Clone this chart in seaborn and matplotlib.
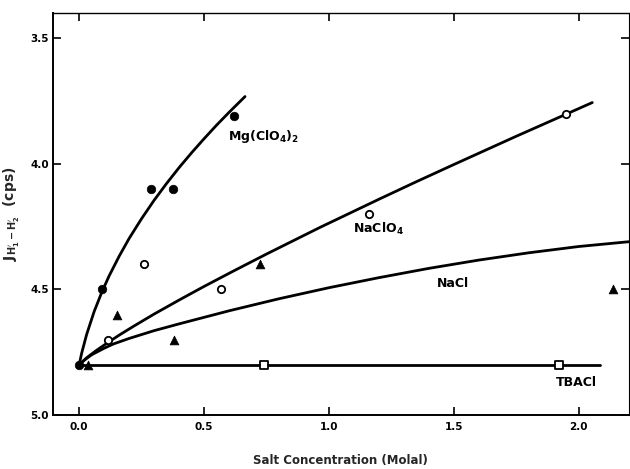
import matplotlib
matplotlib.use('Agg')
import matplotlib.pyplot as plt
import seaborn as sns

mg_x = [0.0, 0.091, 0.288, 0.375, 0.62]
mg_y = [4.80, 4.50, 4.10, 4.10, 3.81]

naclo4_x = [0.117, 0.26, 0.567, 1.161, 1.948]
naclo4_y = [4.70, 4.40, 4.50, 4.20, 3.80]

nacl_x = [0.035, 0.153, 0.38, 0.724, 2.137]
nacl_y = [4.80, 4.60, 4.70, 4.40, 4.50]

tbacl_x = [0.741, 1.921]
tbacl_y = [4.80, 4.80]

# Drawn curves
mg_curve_x = [0.0, 0.01, 0.03, 0.06, 0.091, 0.12, 0.16, 0.2, 0.25, 0.3, 0.35,
              0.4, 0.45, 0.5, 0.55, 0.6, 0.664]
mg_curve_y = [4.80, 4.754, 4.679, 4.588, 4.51, 4.446, 4.368, 4.297, 4.218,
              4.145, 4.078, 4.015, 3.956, 3.900, 3.846, 3.795, 3.732]

naclo4_curve_x = [0.0, 0.03, 0.07, 0.117, 0.16, 0.217, 0.3, 0.404, 0.5, 0.617,
                  0.75, 0.964, 1.204, 1.35, 1.497, 1.75, 1.9, 2.054]
naclo4_curve_y = [4.80, 4.772, 4.742, 4.71, 4.682, 4.647, 4.598, 4.54, 4.488,
                  4.427, 4.359, 4.253, 4.139, 4.071, 4.004, 3.89, 3.824, 3.756]

nacl_curve_x = [0.0, 0.02, 0.05, 0.1, 0.137, 0.2, 0.3, 0.4, 0.6, 0.8, 1.0,
                1.2, 1.4, 1.6, 1.8, 2.0, 2.2]
nacl_curve_y = [4.80, 4.782, 4.760, 4.734, 4.717, 4.695, 4.664, 4.637, 4.585,
                4.537, 4.493, 4.453, 4.416, 4.383, 4.354, 4.329, 4.31]

tbacl_curve_x = [0.0, 2.084]
tbacl_curve_y = [4.80, 4.80]

x_ticks = [0.0, 0.5, 1.0, 1.5, 2.0]
x_ticklabels = ['0.0', '0.5', '1.0', '1.5', '2.0']
y_ticks = [3.5, 4.0, 4.5, 5.0]
y_ticklabels = ['3.5', '4.0', '4.5', '5.0']

sns.set_theme(style='ticks')
plt.rcParams['font.family'] = ['DejaVu Sans']
plt.rcParams['mathtext.fontset'] = 'dejavusans'
plt.rcParams['mathtext.default'] = 'bf'

fig = plt.figure(figsize=(6.3, 4.69), dpi=100)
ax = fig.add_axes([0.084, 0.115, 0.914, 0.857])

# Curves
for cx, cy in [(mg_curve_x, mg_curve_y), (naclo4_curve_x, naclo4_curve_y),
               (nacl_curve_x, nacl_curve_y), (tbacl_curve_x, tbacl_curve_y)]:
    sns.lineplot(x=cx, y=cy, color='black', linewidth=2.0, estimator=None,
                 sort=False, ax=ax, zorder=2)

# Data points
sns.scatterplot(x=mg_x, y=mg_y, marker='o', s=38, color='black',
                edgecolor='black', ax=ax, zorder=3)
sns.scatterplot(x=naclo4_x, y=naclo4_y, marker='o', s=28, facecolor='white',
                edgecolor='black', linewidth=1.3, ax=ax, zorder=3)
sns.scatterplot(x=nacl_x, y=nacl_y, marker='^', s=40, color='black',
                edgecolor='black', ax=ax, zorder=3)
sns.scatterplot(x=tbacl_x, y=tbacl_y, marker='s', s=26, facecolor='white',
                edgecolor='black', linewidth=1.3, ax=ax, zorder=3)

# Curve labels
lab = dict(fontsize=9, fontweight='bold', color='black', va='center', ha='left')
ax.text(0.596, 3.892, r'Mg(ClO$_4$)$_2$', **lab)
ax.text(1.096, 4.26, r'NaClO$_4$', **lab)
ax.text(1.432, 4.478, 'NaCl', **lab)
ax.text(1.908, 4.872, 'TBACl', **lab)

ax.set_xlim(-0.105, 2.2)
ax.set_ylim(5.0, 3.4)
ax.set_xticks(x_ticks)
ax.set_xticklabels(x_ticklabels)
ax.set_yticks(y_ticks)
ax.set_yticklabels(y_ticklabels)

ax.tick_params(axis='x', direction='in', length=6, width=1.2, top=True,
               labelsize=7.5, pad=5, colors='black')
ax.tick_params(axis='y', direction='in', length=6, width=1.2, right=True,
               labelsize=7.5, pad=3, colors='black')
for t in ax.get_xticklabels() + ax.get_yticklabels():
    t.set_fontweight('bold')

for side in ['left', 'bottom', 'right', 'top']:
    ax.spines[side].set_linewidth(1.4)
    ax.spines[side].set_color('black')
ax.spines['top'].set_linewidth(1.0)
ax.spines['right'].set_linewidth(0.8)

ax.set_xlabel('Salt Concentration (Molal)', fontsize=8.5, fontweight='bold',
              labelpad=16)
ax.set_ylabel(r"$J_{H_1^{\prime}-H_2^{\prime}}$  (cps)", fontsize=10,
              fontweight='bold', labelpad=6)

fig.savefig('out.png', dpi=100)
plt.close(fig)
